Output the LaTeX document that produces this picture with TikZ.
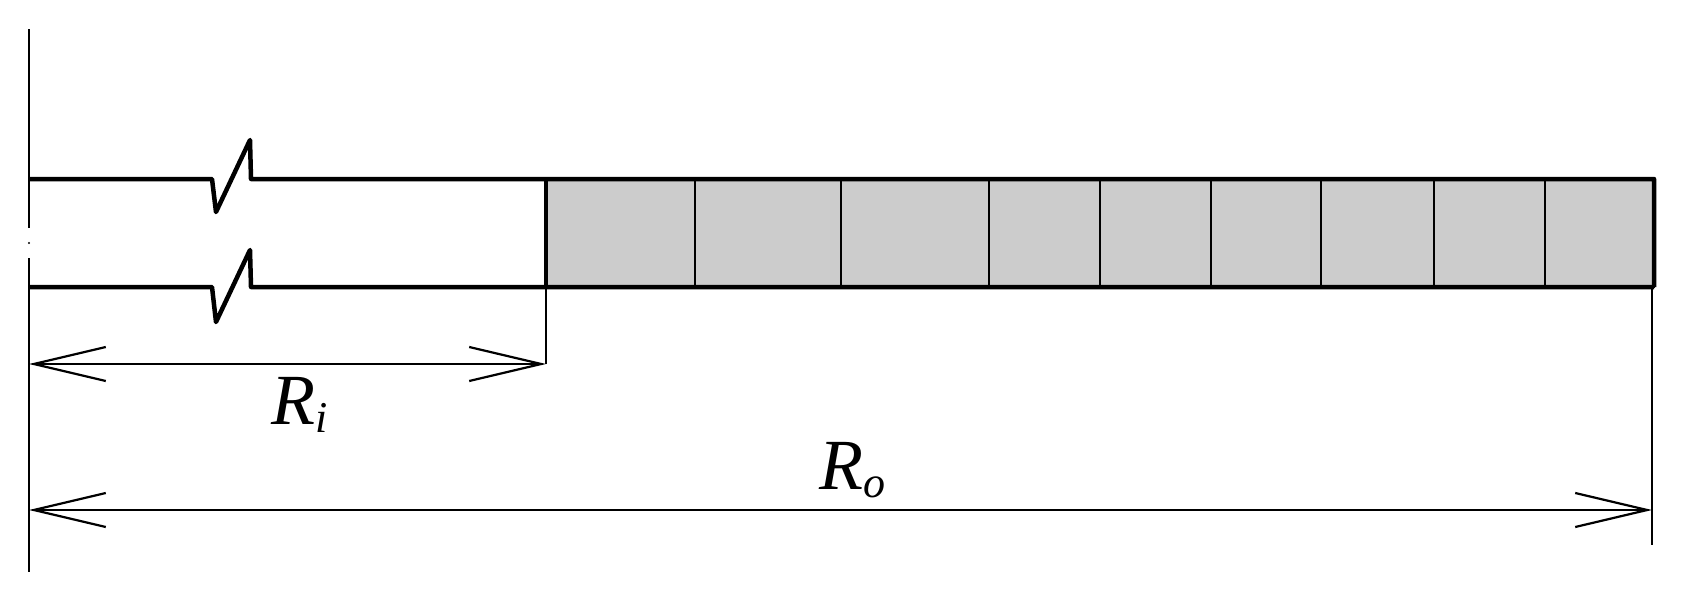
\documentclass[tikz,border=0pt]{standalone}
\usepackage{fontspec}
\setmainfont{Liberation Serif}
\usetikzlibrary{arrows.meta}
\begin{document}
\begin{tikzpicture}[x=1pt,y=-1pt,
  thickl/.style={line width=4.5pt,line join=round},
  thinl/.style={line width=2.2pt},
  dimline/.style={thinl,{Straight Barb[length=72pt,width=34pt,line width=2.2pt]}-{Straight Barb[length=72pt,width=34pt,line width=2.2pt]}},
  cell/.style={fill=black!20,draw,line width=2.2pt},
  lab/.style={font=\fontsize{72}{76}\selectfont\itshape}]
\useasboundingbox (0,0) rectangle (1689,597);
% axis
\coordinate (ax1) at (29,29); \coordinate (ax2) at (29,228);
\coordinate (ax3) at (29,258); \coordinate (ax4) at (29,572);
\draw[thinl] (ax1) -- (ax2);
\draw[thinl] (ax3) -- (ax4);
\fill (29,243) circle (1.2pt);
% cells
\foreach \a/\b in {546/695,695/841,841/989,989/1100,1100/1211,1211/1321,1321/1434,1434/1545,1545/1654}
  \draw[cell] (\a,178) rectangle (\b,287);
% outer thick lines with breaks
\draw[thickl] (29,179) -- (212,179) -- (216,212) -- (250,140) -- (251,179) -- (1654,179) -- (1654,287);
\draw[thickl] (29,287) -- (212,287) -- (216,322) -- (250,250) -- (251,287) -- (1654,287);
\draw[thickl] (546,179) -- (546,287);
% dimensions
\coordinate (ri) at (546,364); \coordinate (ro) at (1652,510);
\coordinate (ril) at (29,364); \coordinate (rol) at (29,510);
\draw[thinl] (546,287) -- (ri);
\draw[thinl] (1652,287) -- (1652,545);
\draw[dimline] (ril) -- (ri);
\draw[dimline] (rol) -- (ro);
\node[lab] (Ri) at (300,405) {R\raisebox{-0.12em}{\fontsize{44}{48}\selectfont i}};
\node[lab] (Ro) at (852,470) {R\raisebox{-0.12em}{\fontsize{44}{48}\selectfont o}};
\end{tikzpicture}
\end{document}
